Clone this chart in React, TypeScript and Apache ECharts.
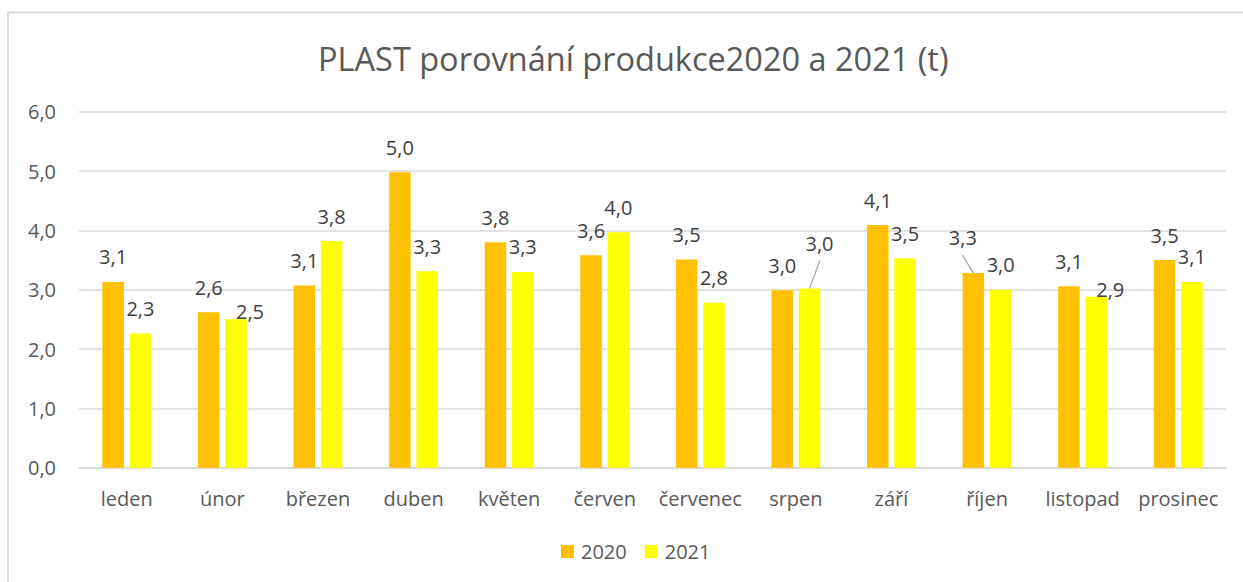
import React, { useEffect, useRef } from "react";
import * as echarts from "echarts";

const months = ["leden", "únor", "březen", "duben", "květen", "červen", "červenec", "srpen", "září", "říjen", "listopad", "prosinec"];
const values2020 = [3.13, 2.62, 3.07, 4.98, 3.8, 3.58, 3.51, 2.99, 4.09, 3.28, 3.06, 3.5];
const values2021 = [2.26, 2.5, 3.82, 3.31, 3.3, 3.97, 2.78, 3.02, 3.53, 3.0, 2.88, 3.13];
const yTicks = [0, 1, 2, 3, 4, 5, 6];

const FONT = "'Open Sans', 'Noto Sans', sans-serif";
const fmt = (v: number) => (Math.round(v * 10) / 10).toFixed(1).replace(".", ",");

// label adjustments (style only): series -> index -> shift, with optional leader line vector
type Shift = { dx: number; dy: number; line?: [number, number] };
const shifts: Record<number, Record<number, Shift>> = {
  0: { 9: { dx: -10.5, dy: -11, line: [-11, -18] } },
  1: {
    1: { dx: 14, dy: 17 },
    7: { dx: 10, dy: -20, line: [10.5, -28] },
    10: { dx: 14, dy: 17.5 },
  },
};

const BAR_W = 21.5;
const BAR_GAP_PX = 5.7;

function buildData(vals: number[], s: Record<number, Shift>) {
  return vals.map((v, i) => {
    const sh = s[i];
    if (!sh) return v;
    return { value: v, label: { offset: [sh.dx, sh.dy] } };
  });
}

export default function App() {
  const ref = useRef<HTMLDivElement>(null);
  useEffect(() => {
    if (!ref.current) return;
    const chart = echarts.init(ref.current, undefined, { renderer: "svg" });
    const labelCfg = {
      show: true,
      position: "top",
      distance: 15,
      fontFamily: FONT,
      fontSize: 20,
      color: "#404040",
      formatter: (p: any) => fmt(p.value),
    };
    chart.setOption({
      animation: false,
      backgroundColor: "#ffffff",
      textStyle: { fontFamily: FONT },
      title: {
        text: "PLAST porovnání produkce2020 a 2021 (t)",
        left: 318,
        top: 42,
        padding: 0,
        textStyle: { fontFamily: FONT, fontSize: 32.5, fontWeight: "normal", color: "#595959" },
      },
      graphic: [
        {
          id: "border",
          type: "rect",
          z: -10,
          silent: true,
          shape: { x: 8, y: 12.5, width: 1400, height: 800 },
          style: { fill: "none", stroke: "#D9D9D9", lineWidth: 2 },
        },
      ],
      legend: {
        data: ["2020", "2021"],
        left: 561,
        top: 541.5,
        padding: 0,
        icon: "rect",
        itemWidth: 13,
        itemHeight: 13,
        itemGap: 18,
        textStyle: { fontFamily: FONT, fontSize: 20, color: "#595959", padding: [0, 0, 0, 2] },
      },
      grid: { left: 79, right: 17, top: 111.7, bottom: 114.3, containLabel: false },
      xAxis: {
        type: "category",
        data: months,
        axisTick: { show: false },
        axisLine: { lineStyle: { color: "#D9D9D9", width: 1.5 } },
        axisLabel: { fontFamily: FONT, fontSize: 20, color: "#595959", margin: 21, interval: 0 },
      },
      yAxis: {
        type: "value",
        min: yTicks[0],
        max: yTicks[yTicks.length - 1],
        interval: 1,
        axisLine: { show: false },
        axisTick: { show: false },
        splitLine: { lineStyle: { color: "#D9D9D9", width: 1.5 } },
        axisLabel: {
          fontFamily: FONT,
          fontSize: 20,
          color: "#595959",
          margin: 23,
          formatter: (v: number) => fmt(v),
        },
      },
      series: [
        {
          name: "2020",
          type: "bar",
          data: buildData(values2020, shifts[0]),
          barWidth: BAR_W,
          barGap: "27%",
          itemStyle: { color: "#FFC000" },
          label: labelCfg,
        },
        {
          name: "2021",
          type: "bar",
          data: buildData(values2021, shifts[1]),
          barWidth: BAR_W,
          barGap: "27%",
          itemStyle: { color: "#FFFF00" },
          label: labelCfg,
        },
      ],
    });

    // leader lines from bar tops (positions from the chart's own scales)
    const seriesVals = [values2020, values2021];
    const leaderLines: any[] = [];
    [0, 1].forEach((si) => {
      Object.keys(shifts[si]).forEach((k) => {
        const i = Number(k);
        const sh = shifts[si][i];
        if (!sh.line) return;
        const pt = chart.convertToPixel({ xAxisIndex: 0, yAxisIndex: 0 }, [i, seriesVals[si][i]]) as number[];
        const half = (BAR_W + BAR_GAP_PX) / 2;
        const bx = pt[0] + (si === 0 ? -half : half);
        const by = pt[1];
        leaderLines.push({
          type: "line",
          silent: true,
          z: 10,
          shape: { x1: bx, y1: by, x2: bx + sh.line[0], y2: by + sh.line[1] },
          style: { stroke: "#A6A6A6", lineWidth: 1.2 },
        });
      });
    });
    chart.setOption({
      graphic: [
        {
          id: "border",
          type: "rect",
          z: -10,
          silent: true,
          shape: { x: 8, y: 12.5, width: 1400, height: 800 },
          style: { fill: "none", stroke: "#D9D9D9", lineWidth: 2 },
        },
        ...leaderLines,
      ],
    });
    return () => chart.dispose();
  }, []);
  return (
    <div
      ref={ref}
      style={{ position: "absolute", left: 0, top: 0, width: 1243, height: 582 }}
    />
  );
}
